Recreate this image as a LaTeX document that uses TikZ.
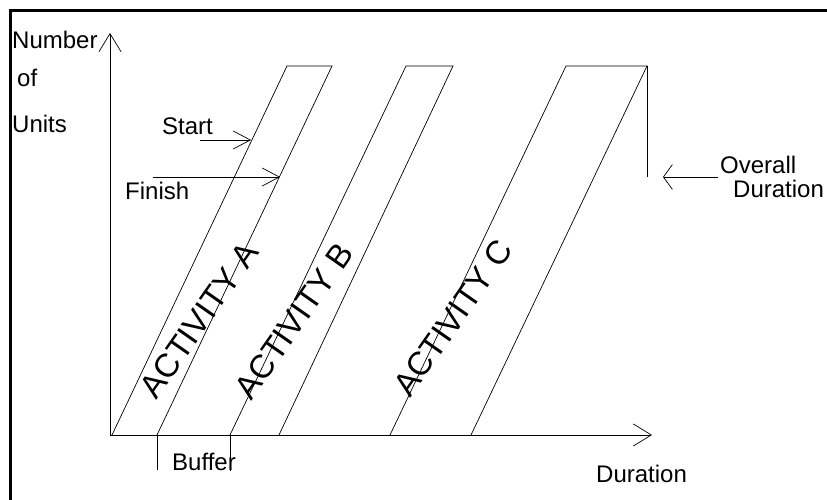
\documentclass[tikz,border=0pt]{standalone}
\usepackage{fontspec}
\setmainfont{Liberation Sans}
\usetikzlibrary{arrows.meta}
\begin{document}
\begin{tikzpicture}[x=1pt,y=-1pt,
  lbl/.style={font=\fontsize{24}{28}\selectfont, inner sep=0pt, anchor=base west},
  actlbl/.style={font=\fontsize{33}{37}\selectfont, inner sep=0pt, rotate=55},
  ln/.style={line width=0.7pt, black},
  axis/.style={ln, -{Straight Barb[length=18pt,width=22pt,line width=0.7pt]}},
  ptr/.style={ln, -{Straight Barb[length=17pt,width=18pt,line width=0.7pt]}},
  ptrwide/.style={ln, -{Straight Barb[length=9pt,width=25pt,line width=0.7pt]}}]
\useasboundingbox (0,0) rectangle (827,500);
% frame
\draw[line width=3.5pt] (10.5,500) |- (827,10.5);

% axes
\coordinate (O) at (110,435);
\coordinate (ytip) at (110,33);
\coordinate (xtip) at (652,435);
\draw[axis] (O) -- (ytip);
\draw[axis] (O) -- (xtip);

% activity bands
\draw[ln] (112,435) -- (287,66) -- (332,66) -- (157,435);
\draw[ln] (230,435) -- (406,66) -- (453,66) -- (279,435);
\draw[ln] (390,435) -- (566,66) -- (647,66) -- (471,435);
\draw[ln] (647,66) -- (647,177);

% buffer markers
\draw[ln] (157,435) -- (157,470);
\draw[ln] (230,435) -- (230,471);

% pointers
\coordinate (startTail) at (200,140);
\coordinate (startTip) at (251,140);
\draw[ptr] (startTail) -- (startTip);
\coordinate (finTail) at (153,177);
\coordinate (finTip) at (280,177);
\draw[ptr] (finTail) -- (finTip);
\coordinate (ovTail) at (718,177);
\coordinate (ovTip) at (663,177);
\draw[ptrwide] (ovTail) -- (ovTip);

% labels
\node[lbl] (num) at (12,49) {Number};
\node[lbl] (of) at (17,87) {of};
\node[lbl] (units) at (12,133) {Units};
\node[lbl] (start) at (162,135) {Start};
\node[lbl] (finish) at (125,199) {Finish};
\node[lbl] (overall) at (720,173) {Overall};
\node[lbl] (ovdur) at (733,197) {Duration};
\node[lbl] (buffer) at (172,470) {Buffer};
\node[lbl] (dur) at (596,482) {Duration};

\node[actlbl] (actA) at (199,320) {ACTIVITY A};
\node[actlbl] (actB) at (294,321) {ACTIVITY B};
\node[actlbl] (actC) at (453,318) {ACTIVITY C};
\end{tikzpicture}
\end{document}
